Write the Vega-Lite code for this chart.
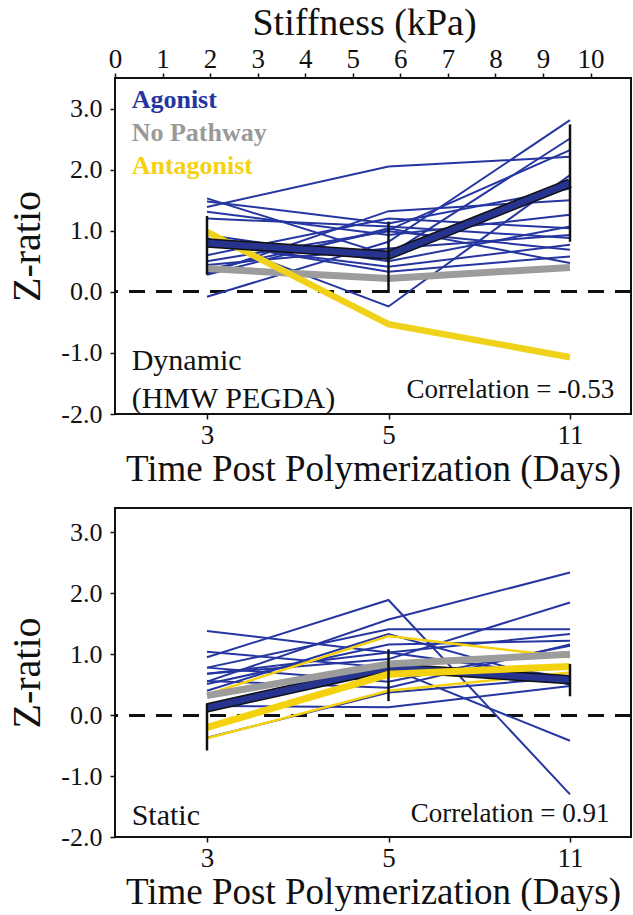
{
  "$schema": "https://vega.github.io/schema/vega-lite/v6.json",
  "background": "white",
  "padding": {"left": 6, "top": 3, "right": 3, "bottom": 0},
  "spacing": 94,
  "bounds": "flush",
  "config": {
    "font": "Liberation Serif",
    "view": {"stroke": "#111", "strokeWidth": 2},
    "axis": {"domain": false, "grid": false, "labelFont": "Liberation Serif", "titleFont": "Liberation Serif", "labelColor": "#111", "titleColor": "#111", "tickColor": "#111", "tickWidth": 1.5, "titleFontWeight": "normal", "labelFlush": false, "labelOverlap": false, "labelBound": false}
  },
  "datasets": {
    "dyn": [
      {"id": "a1", "kind": "thinAg", "day": 3, "z": 1.39}, {"id": "a1", "kind": "thinAg", "day": 5, "z": 2.05}, {"id": "a1", "kind": "thinAg", "day": 11, "z": 2.21},
      {"id": "a2", "kind": "thinAg", "day": 3, "z": -0.08}, {"id": "a2", "kind": "thinAg", "day": 5, "z": 0.82}, {"id": "a2", "kind": "thinAg", "day": 11, "z": 2.81},
      {"id": "a3", "kind": "thinAg", "day": 3, "z": 1.53}, {"id": "a3", "kind": "thinAg", "day": 5, "z": 0.60}, {"id": "a3", "kind": "thinAg", "day": 11, "z": 2.51},
      {"id": "a4", "kind": "thinAg", "day": 3, "z": 0.36}, {"id": "a4", "kind": "thinAg", "day": 5, "z": 1.01}, {"id": "a4", "kind": "thinAg", "day": 11, "z": 2.32},
      {"id": "a5", "kind": "thinAg", "day": 3, "z": 0.88}, {"id": "a5", "kind": "thinAg", "day": 5, "z": -0.24}, {"id": "a5", "kind": "thinAg", "day": 11, "z": 1.91},
      {"id": "a6", "kind": "thinAg", "day": 3, "z": 1.48}, {"id": "a6", "kind": "thinAg", "day": 5, "z": 1.12}, {"id": "a6", "kind": "thinAg", "day": 11, "z": 1.69},
      {"id": "a7", "kind": "thinAg", "day": 3, "z": 0.30}, {"id": "a7", "kind": "thinAg", "day": 5, "z": 1.32}, {"id": "a7", "kind": "thinAg", "day": 11, "z": 1.50},
      {"id": "a8", "kind": "thinAg", "day": 3, "z": 1.31}, {"id": "a8", "kind": "thinAg", "day": 5, "z": 0.93}, {"id": "a8", "kind": "thinAg", "day": 11, "z": 1.26},
      {"id": "a9", "kind": "thinAg", "day": 3, "z": 0.93}, {"id": "a9", "kind": "thinAg", "day": 5, "z": 0.50}, {"id": "a9", "kind": "thinAg", "day": 11, "z": 1.07},
      {"id": "a10", "kind": "thinAg", "day": 3, "z": 0.60}, {"id": "a10", "kind": "thinAg", "day": 5, "z": 1.20}, {"id": "a10", "kind": "thinAg", "day": 11, "z": 1.04},
      {"id": "a11", "kind": "thinAg", "day": 3, "z": 0.44}, {"id": "a11", "kind": "thinAg", "day": 5, "z": 0.71}, {"id": "a11", "kind": "thinAg", "day": 11, "z": 0.93},
      {"id": "a12", "kind": "thinAg", "day": 3, "z": 1.20}, {"id": "a12", "kind": "thinAg", "day": 5, "z": 1.07}, {"id": "a12", "kind": "thinAg", "day": 11, "z": 0.88},
      {"id": "a13", "kind": "thinAg", "day": 3, "z": 0.78}, {"id": "a13", "kind": "thinAg", "day": 5, "z": 0.41}, {"id": "a13", "kind": "thinAg", "day": 11, "z": 0.77},
      {"id": "a14", "kind": "thinAg", "day": 3, "z": 0.50}, {"id": "a14", "kind": "thinAg", "day": 5, "z": 0.99}, {"id": "a14", "kind": "thinAg", "day": 11, "z": 0.69},
      {"id": "a15", "kind": "thinAg", "day": 3, "z": 0.82}, {"id": "a15", "kind": "thinAg", "day": 5, "z": 0.33}, {"id": "a15", "kind": "thinAg", "day": 11, "z": 0.58},
      {"id": "a16", "kind": "thinAg", "day": 3, "z": 0.28}, {"id": "a16", "kind": "thinAg", "day": 5, "z": 1.04}, {"id": "a16", "kind": "thinAg", "day": 11, "z": 0.47},
      {"id": "np", "kind": "meanNp", "day": 3, "z": 0.38}, {"id": "np", "kind": "meanNp", "day": 5, "z": 0.22}, {"id": "np", "kind": "meanNp", "day": 11, "z": 0.40},
      {"id": "ant", "kind": "meanAnt", "day": 3, "z": 0.98}, {"id": "ant", "kind": "meanAnt", "day": 5, "z": -0.53}, {"id": "ant", "kind": "meanAnt", "day": 11, "z": -1.07},
      {"id": "ag", "kind": "meanAg", "day": 3, "z": 0.80}, {"id": "ag", "kind": "meanAg", "day": 5, "z": 0.60}, {"id": "ag", "kind": "meanAg", "day": 11, "z": 1.78}
    ],
    "dynErr": [
      {"day": 3, "lo": 0.28, "hi": 1.24},
      {"day": 5, "lo": -0.02, "hi": 1.15},
      {"day": 11, "lo": 0.82, "hi": 2.74}
    ],
    "stat": [
      {"id": "s1", "kind": "thinAg", "day": 3, "z": 0.55}, {"id": "s1", "kind": "thinAg", "day": 5, "z": 1.57}, {"id": "s1", "kind": "thinAg", "day": 11, "z": 2.34},
      {"id": "s2", "kind": "thinAg", "day": 3, "z": 0.95}, {"id": "s2", "kind": "thinAg", "day": 5, "z": 1.89}, {"id": "s2", "kind": "thinAg", "day": 11, "z": -1.30},
      {"id": "s3", "kind": "thinAg", "day": 3, "z": 0.78}, {"id": "s3", "kind": "thinAg", "day": 5, "z": 1.41}, {"id": "s3", "kind": "thinAg", "day": 11, "z": 1.41},
      {"id": "s4", "kind": "thinAg", "day": 3, "z": 1.38}, {"id": "s4", "kind": "thinAg", "day": 5, "z": 1.03}, {"id": "s4", "kind": "thinAg", "day": 11, "z": 0.62},
      {"id": "s5", "kind": "thinAg", "day": 3, "z": 0.68}, {"id": "s5", "kind": "thinAg", "day": 5, "z": 0.92}, {"id": "s5", "kind": "thinAg", "day": 11, "z": 1.85},
      {"id": "s6", "kind": "thinAg", "day": 3, "z": 1.04}, {"id": "s6", "kind": "thinAg", "day": 5, "z": 0.78}, {"id": "s6", "kind": "thinAg", "day": 11, "z": -0.42},
      {"id": "s7", "kind": "thinAg", "day": 3, "z": 0.51}, {"id": "s7", "kind": "thinAg", "day": 5, "z": 1.16}, {"id": "s7", "kind": "thinAg", "day": 11, "z": 1.22},
      {"id": "s8", "kind": "thinAg", "day": 3, "z": 0.15}, {"id": "s8", "kind": "thinAg", "day": 5, "z": 0.13}, {"id": "s8", "kind": "thinAg", "day": 11, "z": 0.48},
      {"id": "s9", "kind": "thinAg", "day": 3, "z": 0.56}, {"id": "s9", "kind": "thinAg", "day": 5, "z": 0.45}, {"id": "s9", "kind": "thinAg", "day": 11, "z": 1.16},
      {"id": "s10", "kind": "thinAg", "day": 3, "z": -0.37}, {"id": "s10", "kind": "thinAg", "day": 5, "z": 0.37}, {"id": "s10", "kind": "thinAg", "day": 11, "z": 0.62},
      {"id": "s11", "kind": "thinAg", "day": 3, "z": 0.68}, {"id": "s11", "kind": "thinAg", "day": 5, "z": 1.03}, {"id": "s11", "kind": "thinAg", "day": 11, "z": 1.33},
      {"id": "s12", "kind": "thinAg", "day": 3, "z": 0.78}, {"id": "s12", "kind": "thinAg", "day": 5, "z": 0.55}, {"id": "s12", "kind": "thinAg", "day": 11, "z": 1.14},
      {"id": "s13", "kind": "thinAg", "day": 3, "z": 0.40}, {"id": "s13", "kind": "thinAg", "day": 5, "z": 1.33}, {"id": "s13", "kind": "thinAg", "day": 11, "z": 0.50},
      {"id": "y1", "kind": "thinAnt", "day": 3, "z": 0.34}, {"id": "y1", "kind": "thinAnt", "day": 5, "z": 1.30}, {"id": "y1", "kind": "thinAnt", "day": 11, "z": 0.95},
      {"id": "y2", "kind": "thinAnt", "day": 3, "z": -0.38}, {"id": "y2", "kind": "thinAnt", "day": 5, "z": 0.40}, {"id": "y2", "kind": "thinAnt", "day": 11, "z": 0.70},
      {"id": "np", "kind": "meanNp", "day": 3, "z": 0.32}, {"id": "np", "kind": "meanNp", "day": 5, "z": 0.84}, {"id": "np", "kind": "meanNp", "day": 11, "z": 1.00},
      {"id": "ag", "kind": "meanAg", "day": 3, "z": 0.12}, {"id": "ag", "kind": "meanAg", "day": 5, "z": 0.78}, {"id": "ag", "kind": "meanAg", "day": 11, "z": 0.58},
      {"id": "ant", "kind": "meanAnt", "day": 3, "z": -0.20}, {"id": "ant", "kind": "meanAnt", "day": 5, "z": 0.67}, {"id": "ant", "kind": "meanAnt", "day": 11, "z": 0.80}
    ],
    "statErr": [
      {"day": 3, "lo": -0.58, "hi": 0.18},
      {"day": 5, "lo": 0.23, "hi": 1.08},
      {"day": 11, "lo": 0.31, "hi": 0.84}
    ],
    "notes": [
      {"label": "Agonist"}, {"label": "No Pathway"}, {"label": "Antagonist"},
      {"label": "Dynamic"}, {"label": "(HMW PEGDA)"}, {"label": "Correlation = -0.53"},
      {"label": "Static"}, {"label": "Correlation = 0.91"}
    ]
  },
  "vconcat": [
    {
      "width": 516,
      "height": 336,
      "layer": [
        {
          "data": {"name": "dyn"},
          "layer": [
            {
              "mark": {"type": "rule", "strokeDash": [16, 11], "strokeWidth": 2, "color": "#111"},
              "encoding": {"y": {"datum": 0, "type": "quantitative", "title": "Z-ratio", "scale": {"domain": [-2, 3.5], "nice": false, "zero": false}}}
            },
            {
              "transform": [{"filter": "datum.kind === 'thinAg'"}],
              "mark": {"type": "line", "color": "#2636a0", "strokeWidth": 2},
              "encoding": {
                "x": {"field": "day", "type": "ordinal", "sort": [3, 5, 11], "title": "Time Post Polymerization (Days)", "scale": {"type": "point", "range": [92, 455], "padding": 0},
                  "axis": {"labelAngle": 0, "labelFontSize": 27, "titleFontSize": 37, "tickSize": 5, "labelPadding": 3, "titlePadding": 3, "titleX": 258}},
                "y": {"field": "z", "type": "quantitative", "title": "Z-ratio", "scale": {"domain": [-2, 3.5], "nice": false, "zero": false},
                  "axis": {"values": [-2, -1.5, -1, -0.5, 0, 0.5, 1, 1.5, 2, 2.5, 3], "labelExpr": "datum.value % 1 === 0 ? (datum.value < 0 ? '-' + format(-datum.value, '.1f') : format(datum.value, '.1f')) : ''", "labelFontSize": 26, "titleFontSize": 40, "tickSize": 5, "labelPadding": 8, "titlePadding": 13}},
                "detail": {"field": "id"}
              }
            },
            {
              "transform": [{"filter": "datum.kind === 'meanNp'"}],
              "mark": {"type": "line", "color": "#9c9c9c", "strokeWidth": 7},
              "encoding": {
                "x": {"field": "day", "type": "ordinal", "sort": [3, 5, 11], "title": "Time Post Polymerization (Days)"},
                "y": {"field": "z", "type": "quantitative", "title": "Z-ratio"}
              }
            },
            {
              "transform": [{"filter": "datum.kind === 'meanAnt'"}],
              "mark": {"type": "line", "color": "#f0d21a", "strokeWidth": 6.5},
              "encoding": {
                "x": {"field": "day", "type": "ordinal", "sort": [3, 5, 11], "title": "Time Post Polymerization (Days)"},
                "y": {"field": "z", "type": "quantitative", "title": "Z-ratio"}
              }
            },
            {
              "transform": [{"filter": "datum.kind === 'meanAg'"}],
              "mark": {"type": "line", "color": "#111", "strokeWidth": 9.5},
              "encoding": {
                "x": {"field": "day", "type": "ordinal", "sort": [3, 5, 11], "title": "Time Post Polymerization (Days)"},
                "y": {"field": "z", "type": "quantitative", "title": "Z-ratio"}
              }
            },
            {
              "transform": [{"filter": "datum.kind === 'meanAg'"}],
              "mark": {"type": "line", "color": "#27348f", "strokeWidth": 6.5},
              "encoding": {
                "x": {"field": "day", "type": "ordinal", "sort": [3, 5, 11], "title": "Time Post Polymerization (Days)"},
                "y": {"field": "z", "type": "quantitative", "title": "Z-ratio"}
              }
            },
            {
              "data": {"name": "dynErr"},
              "mark": {"type": "rule", "color": "#111", "strokeWidth": 2.5},
              "encoding": {
                "x": {"field": "day", "type": "ordinal", "sort": [3, 5, 11], "title": "Time Post Polymerization (Days)"},
                "y": {"field": "lo", "type": "quantitative", "title": "Z-ratio"},
                "y2": {"field": "hi"}
              }
            }
          ]
        },
        {
          "data": {"name": "notes"},
          "layer": [
            {
              "transform": [{"filter": "datum.label === 'Agonist'"}],
              "mark": {"type": "text", "align": "left", "baseline": "alphabetic", "fontSize": 26, "fontWeight": "bold", "color": "#2636a0"},
              "encoding": {
                "x": {"datum": 0.35, "type": "quantitative", "scale": {"domain": [0, 10.85], "nice": false, "zero": false},
                  "axis": {"title": "Stiffness (kPa)", "orient": "top", "values": [0, 1, 2, 3, 4, 5, 6, 7, 8, 9, 10], "format": "d", "labelFontSize": 27, "titleFontSize": 38, "tickSize": 5, "labelPadding": 0, "titlePadding": 3, "titleX": 249}},
                "y": {"datum": 3.01, "type": "quantitative", "title": "Z-ratio"},
                "text": {"field": "label"}
              }
            },
            {
              "transform": [{"filter": "datum.label === 'No Pathway'"}],
              "mark": {"type": "text", "align": "left", "baseline": "alphabetic", "fontSize": 26, "fontWeight": "bold", "color": "#999999"},
              "encoding": {
                "x": {"datum": 0.35, "type": "quantitative"},
                "y": {"datum": 2.47, "type": "quantitative", "title": "Z-ratio"},
                "text": {"field": "label"}
              }
            },
            {
              "transform": [{"filter": "datum.label === 'Antagonist'"}],
              "mark": {"type": "text", "align": "left", "baseline": "alphabetic", "fontSize": 26, "fontWeight": "bold", "color": "#f5d20f"},
              "encoding": {
                "x": {"datum": 0.35, "type": "quantitative"},
                "y": {"datum": 1.93, "type": "quantitative", "title": "Z-ratio"},
                "text": {"field": "label"}
              }
            },
            {
              "transform": [{"filter": "datum.label === 'Dynamic'"}],
              "mark": {"type": "text", "align": "left", "baseline": "alphabetic", "fontSize": 30, "color": "#111"},
              "encoding": {
                "x": {"datum": 0.35, "type": "quantitative"},
                "y": {"datum": -1.28, "type": "quantitative", "title": "Z-ratio"},
                "text": {"field": "label"}
              }
            },
            {
              "transform": [{"filter": "datum.label === '(HMW PEGDA)'"}],
              "mark": {"type": "text", "align": "left", "baseline": "alphabetic", "fontSize": 30, "color": "#111"},
              "encoding": {
                "x": {"datum": 0.35, "type": "quantitative"},
                "y": {"datum": -1.9, "type": "quantitative", "title": "Z-ratio"},
                "text": {"field": "label"}
              }
            },
            {
              "transform": [{"filter": "datum.label === 'Correlation = -0.53'"}],
              "mark": {"type": "text", "align": "right", "baseline": "alphabetic", "fontSize": 27, "color": "#111"},
              "encoding": {
                "x": {"datum": 10.5, "type": "quantitative"},
                "y": {"datum": -1.74, "type": "quantitative", "title": "Z-ratio"},
                "text": {"field": "label"}
              }
            }
          ]
        }
      ],
      "resolve": {"scale": {"x": "independent"}, "axis": {"x": "independent"}}
    },
    {
      "width": 516,
      "height": 329,
      "layer": [
        {
          "data": {"name": "stat"},
          "layer": [
            {
              "mark": {"type": "rule", "strokeDash": [16, 11], "strokeWidth": 2, "color": "#111"},
              "encoding": {"y": {"datum": 0, "type": "quantitative", "title": "Z-ratio", "scale": {"domain": [-2, 3.4], "nice": false, "zero": false}}}
            },
            {
              "transform": [{"filter": "datum.kind === 'thinAg'"}],
              "mark": {"type": "line", "color": "#2636a0", "strokeWidth": 2},
              "encoding": {
                "x": {"field": "day", "type": "ordinal", "sort": [3, 5, 11], "title": "Time Post Polymerization (Days)", "scale": {"type": "point", "range": [92, 455], "padding": 0},
                  "axis": {"labelAngle": 0, "labelFontSize": 27, "titleFontSize": 37, "tickSize": 5, "labelPadding": 3, "titlePadding": 3, "titleX": 258}},
                "y": {"field": "z", "type": "quantitative", "title": "Z-ratio", "scale": {"domain": [-2, 3.4], "nice": false, "zero": false},
                  "axis": {"values": [-2, -1.5, -1, -0.5, 0, 0.5, 1, 1.5, 2, 2.5, 3], "labelExpr": "datum.value % 1 === 0 ? (datum.value < 0 ? '-' + format(-datum.value, '.1f') : format(datum.value, '.1f')) : ''", "labelFontSize": 26, "titleFontSize": 40, "tickSize": 5, "labelPadding": 8, "titlePadding": 13}},
                "detail": {"field": "id"}
              }
            },
            {
              "transform": [{"filter": "datum.kind === 'thinAnt'"}],
              "mark": {"type": "line", "color": "#f5d20f", "strokeWidth": 2.5},
              "encoding": {
                "x": {"field": "day", "type": "ordinal", "sort": [3, 5, 11], "title": "Time Post Polymerization (Days)"},
                "y": {"field": "z", "type": "quantitative", "title": "Z-ratio"},
                "detail": {"field": "id"}
              }
            },
            {
              "transform": [{"filter": "datum.kind === 'meanAg'"}],
              "mark": {"type": "line", "color": "#111", "strokeWidth": 9.5},
              "encoding": {
                "x": {"field": "day", "type": "ordinal", "sort": [3, 5, 11], "title": "Time Post Polymerization (Days)"},
                "y": {"field": "z", "type": "quantitative", "title": "Z-ratio"}
              }
            },
            {
              "transform": [{"filter": "datum.kind === 'meanAg'"}],
              "mark": {"type": "line", "color": "#27348f", "strokeWidth": 6.5},
              "encoding": {
                "x": {"field": "day", "type": "ordinal", "sort": [3, 5, 11], "title": "Time Post Polymerization (Days)"},
                "y": {"field": "z", "type": "quantitative", "title": "Z-ratio"}
              }
            },
            {
              "transform": [{"filter": "datum.kind === 'meanNp'"}],
              "mark": {"type": "line", "color": "#9c9c9c", "strokeWidth": 7},
              "encoding": {
                "x": {"field": "day", "type": "ordinal", "sort": [3, 5, 11], "title": "Time Post Polymerization (Days)"},
                "y": {"field": "z", "type": "quantitative", "title": "Z-ratio"}
              }
            },
            {
              "transform": [{"filter": "datum.kind === 'meanAnt'"}],
              "mark": {"type": "line", "color": "#f5d20f", "strokeWidth": 7},
              "encoding": {
                "x": {"field": "day", "type": "ordinal", "sort": [3, 5, 11], "title": "Time Post Polymerization (Days)"},
                "y": {"field": "z", "type": "quantitative", "title": "Z-ratio"}
              }
            },
            {
              "data": {"name": "statErr"},
              "mark": {"type": "rule", "color": "#111", "strokeWidth": 2.5},
              "encoding": {
                "x": {"field": "day", "type": "ordinal", "sort": [3, 5, 11], "title": "Time Post Polymerization (Days)"},
                "y": {"field": "lo", "type": "quantitative", "title": "Z-ratio"},
                "y2": {"field": "hi"}
              }
            }
          ]
        },
        {
          "data": {"name": "notes"},
          "layer": [
            {
              "transform": [{"filter": "datum.label === 'Static'"}],
              "mark": {"type": "text", "align": "left", "baseline": "alphabetic", "fontSize": 30, "color": "#111"},
              "encoding": {
                "x": {"datum": 0.35, "type": "quantitative", "scale": {"domain": [0, 10.85], "nice": false, "zero": false}, "axis": null},
                "y": {"datum": -1.81, "type": "quantitative", "title": "Z-ratio"},
                "text": {"field": "label"}
              }
            },
            {
              "transform": [{"filter": "datum.label === 'Correlation = 0.91'"}],
              "mark": {"type": "text", "align": "right", "baseline": "alphabetic", "fontSize": 27, "color": "#111"},
              "encoding": {
                "x": {"datum": 10.4, "type": "quantitative", "axis": null},
                "y": {"datum": -1.76, "type": "quantitative", "title": "Z-ratio"},
                "text": {"field": "label"}
              }
            }
          ]
        }
      ],
      "resolve": {"scale": {"x": "independent"}, "axis": {"x": "independent"}}
    }
  ]
}
